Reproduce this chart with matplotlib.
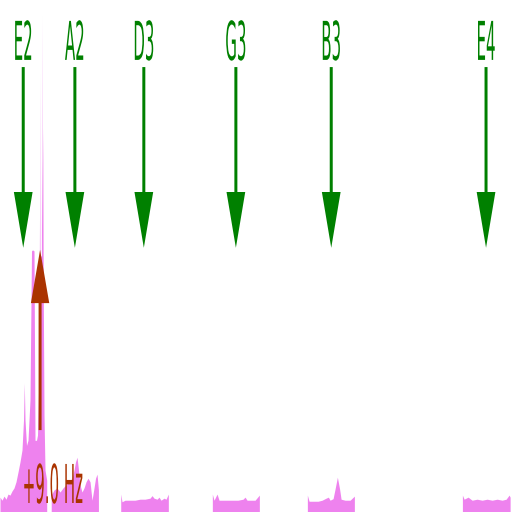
import matplotlib
matplotlib.use("Agg")
import matplotlib.pyplot as plt
from matplotlib.patheffects import AbstractPathEffect
from matplotlib.transforms import Affine2D

notes = ["E2", "A2", "D3", "G3", "B3", "E4"]
note_freqs = [82.41, 110.00, 146.83, 196.00, 246.94, 329.63]

detected_freq = 91.41
offset_label = "+9.0 Hz"

# spektrum, her nota icin ayri pencere (Hz, genlik)
e2_freq = [70.00, 71.07, 72.14, 73.21, 74.27, 75.34, 76.41, 77.48, 78.55, 79.62,
           80.69, 81.75, 82.56, 82.98, 83.36, 84.16, 84.96, 86.03, 86.83, 87.36,
           88.17, 88.70, 89.50, 90.03, 90.68, 90.84, 91.00, 91.27, 91.37, 91.53,
           92.12, 92.28, 92.44, 92.81, 93.08, 93.51, 94.04, 94.95]
e2_mag = [2.9, 2.3, 3.1, 2.5, 3.5, 3.3, 4.1, 4.7, 5.9, 7.8,
          9.8, 12.1, 18.0, 25.2, 18.0, 13.0, 14.0, 21.9, 51.0, 51.2,
          51.0, 14.0, 14.0, 15.0, 25.0, 57.0, 30.0, 40.0, 85.7, 50.0,
          50.0, 97.0, 55.0, 75.0, 45.0, 19.0, 8.2, 6.2]

a2_freq = [97.36, 98.85, 100.46, 102.06, 103.66, 105.26, 106.87, 108.47, 109.54,
           110.34, 111.14, 111.94, 112.74, 113.81, 114.88, 115.95, 117.02, 118.09,
           119.16, 120.22, 121.03, 121.83, 122.58]
a2_mag = [3.3, 4.3, 4.7, 3.9, 4.7, 5.3, 5.9, 6.6, 8.2,
          9.8, 10.7, 8.2, 5.3, 3.9, 4.7, 5.9, 6.6, 5.9,
          2.3, 4.7, 6.6, 7.4, 4.3]

d3_freq = [134.49, 135.18, 136.79, 139.46, 142.13, 144.80, 147.47, 150.15,
           151.21, 152.28, 153.89, 154.95, 156.02, 157.63, 158.69, 159.92]
d3_mag = [3.5, 2.0, 2.3, 2.3, 2.3, 2.5, 2.5, 2.7,
          3.2, 2.7, 2.5, 2.9, 2.3, 2.7, 2.5, 3.5]

g3_freq = [183.43, 184.34, 185.94, 187.01, 189.15, 191.82, 194.49, 197.16,
           199.83, 200.90, 201.97, 204.11, 206.25, 208.54]
g3_mag = [3.5, 2.3, 3.5, 2.3, 2.3, 2.3, 2.3, 2.3,
          2.5, 2.9, 2.3, 2.3, 2.3, 3.3]

b3_freq = [234.19, 235.10, 237.24, 239.91, 242.04, 244.18, 245.41, 246.32,
           247.92, 248.99, 250.22, 251.40, 252.20, 254.33, 257.00, 259.30]
b3_mag = [3.3, 2.1, 2.1, 2.1, 2.3, 2.7, 2.9, 2.3,
          2.6, 4.5, 6.8, 4.5, 2.5, 2.3, 2.3, 3.1]

e4_freq = [317.01, 317.92, 320.05, 322.19, 324.86, 327.53, 330.20, 332.88,
           335.55, 338.22, 340.36, 341.96, 342.49]
e4_mag = [3.3, 2.5, 2.9, 2.3, 2.5, 2.3, 2.5, 2.3,
          2.5, 2.3, 2.5, 3.3, 2.9]

windows = [(e2_freq, e2_mag), (a2_freq, a2_mag), (d3_freq, d3_mag),
           (g3_freq, g3_mag), (b3_freq, b3_mag), (e4_freq, e4_mag)]


class Stretch(AbstractPathEffect):
    """Yaziyi taban cizgisinden yukari dogru uzatir (dar, uzun harfler)."""

    def __init__(self, sy):
        super().__init__()
        self.sy = sy

    def draw_path(self, renderer, gc, tpath, affine, rgbFace=None):
        aff = Affine2D().scale(1.0, self.sy) + affine
        renderer.draw_path(gc, tpath, aff, rgbFace)


fig = plt.figure(figsize=(5.12, 5.12), dpi=100)
ax = fig.add_axes([0, 0, 1, 1])
ax.set_xlim(70, 343.5)
ax.set_ylim(0, 100)
ax.axis("off")

for fr, mag in windows:
    ax.fill_between(fr, 0, mag, color="violet", lw=0, zorder=1)

tall = [Stretch(3.57)]
for name, f in zip(notes, note_freqs):
    ax.arrow(f, 86.9, 0, -35.3, width=1.6, head_width=10.0, head_length=10.9,
             length_includes_head=True, color="green", lw=0, zorder=3)
    ax.text(f, 88.3, name, color="green", fontsize=10.8, ha="center",
            va="baseline", path_effects=tall, zorder=4)

ax.arrow(detected_freq, 16.0, 0, 35.2, width=1.6, head_width=9.8, head_length=10.4,
         length_includes_head=True, color="#aa3300", lw=0, zorder=3)
ax.text(98.2, 1.76, offset_label, color="#aa3300", fontsize=10.8, ha="center",
        va="baseline", path_effects=tall, zorder=4)

fig.savefig("out.png", dpi=100)
